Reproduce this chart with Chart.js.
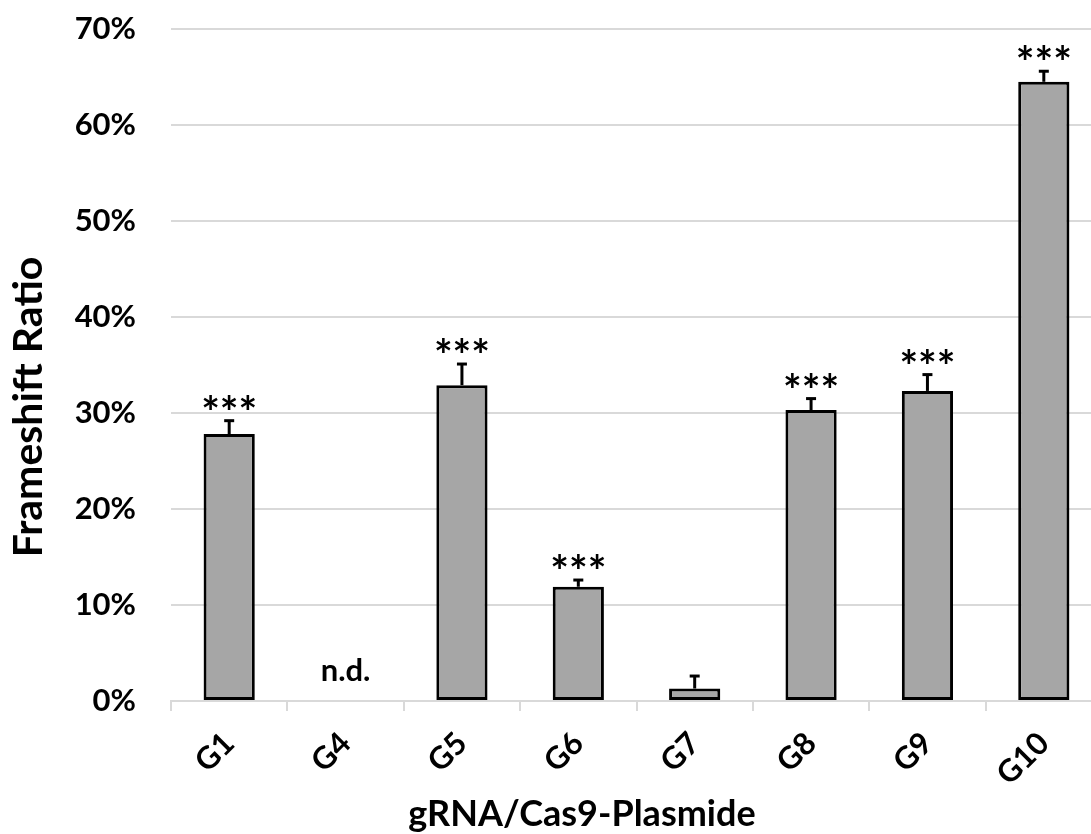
<!DOCTYPE html>
<html lang="en">
<head>
    <meta charset="UTF-8">
    <title>Frameshift Ratio</title>
    <script src="https://cdn.jsdelivr.net/npm/chart.js"></script>
    <style>
        html, body {
            margin: 0;
            padding: 0;
            background: #ffffff;
            overflow: hidden;
        }
        .chart-container {
            width: 1110px;
            height: 834px;
        }
    </style>
</head>
<body>
<div class="chart-container">
    <canvas id="frameshiftChart" width="1110" height="834"></canvas>
</div>

<script>
    // values (percent)
    const categories = ['G1', 'G4', 'G5', 'G6', 'G7', 'G8', 'G9', 'G10'];
    const ratioValues = [27.8, 0, 32.9, 11.9, 1.3, 30.3, 32.3, 64.5];
    const errorValues = [1.4, 0, 2.2, 0.7, 1.3, 1.2, 1.7, 1.1];
    const significance = ['***', 'n.d.', '***', '***', '', '***', '***', '***'];
    const yTicks = [0, 10, 20, 30, 40, 50, 60, 70];
    const xTitle = 'gRNA/Cas9-Plasmide';
    const yTitle = 'Frameshift Ratio';

    const fontFamily = 'Lato, "Open Sans", sans-serif';

    // error bars, significance marks and the axis titles
    const errorBarPlugin = {
        id: 'errorBars',
        afterDatasetsDraw(chart) {
            const ctx = chart.ctx;
            const x = chart.scales.x;
            const y = chart.scales.y;
            ctx.save();
            ctx.strokeStyle = '#000';
            ctx.fillStyle = '#000';
            ratioValues.forEach((v, i) => {
                const cx = x.getPixelForValue(i);
                const base = y.getPixelForValue(v);
                const top = y.getPixelForValue(v + errorValues[i]);
                if (errorValues[i] > 0) {
                    ctx.lineWidth = 3;
                    ctx.beginPath();
                    ctx.moveTo(cx, base);
                    ctx.lineTo(cx, top);
                    ctx.stroke();
                    ctx.beginPath();
                    ctx.moveTo(cx - 5, top);
                    ctx.lineTo(cx + 5, top);
                    ctx.stroke();
                }
                const mark = significance[i];
                if (mark === '***') {
                    ctx.font = 'bold 44px ' + fontFamily;
                    ctx.textAlign = 'center';
                    ctx.textBaseline = 'alphabetic';
                    ctx.fillText(mark, cx, top + 7);
                } else if (mark === 'n.d.') {
                    ctx.font = 'bold 31px ' + fontFamily;
                    ctx.textAlign = 'center';
                    ctx.textBaseline = 'middle';
                    ctx.fillText(mark, cx, y.getPixelForValue(v) - 30);
                }
            });
            ctx.restore();
        },
        afterDraw(chart) {
            const ctx = chart.ctx;
            const area = chart.chartArea;
            ctx.save();
            ctx.fillStyle = '#000';
            ctx.textAlign = 'center';
            ctx.textBaseline = 'middle';
            ctx.font = 'bold 36px ' + fontFamily;
            ctx.fillText(xTitle, area.left + 411, chart.height - 20);
            ctx.translate(29, area.top + 378);
            ctx.rotate(-Math.PI / 2);
            ctx.font = 'bold 41px ' + fontFamily;
            ctx.fillText(yTitle, 0, 0);
            ctx.restore();
        }
    };

    const ctx = document.getElementById('frameshiftChart').getContext('2d');
    new Chart(ctx, {
        type: 'bar',
        data: {
            labels: categories,
            datasets: [{
                label: 'Frameshift Ratio',
                data: ratioValues,
                backgroundColor: '#a6a6a6',
                borderColor: '#000000',
                borderWidth: 3,
                borderSkipped: false,
                categoryPercentage: 1.0,
                barPercentage: 0.44
            }]
        },
        options: {
            responsive: false,
            animation: false,
            layout: {
                padding: { top: 29, right: 8, left: 0, bottom: 0 }
            },
            plugins: {
                legend: { display: false },
                tooltip: { enabled: false }
            },
            scales: {
                x: {
                    offset: true,
                    grid: {
                        offset: true,
                        drawOnChartArea: false,
                        color: '#d9d9d9',
                        lineWidth: 2,
                        tickLength: 10
                    },
                    border: {
                        display: true,
                        color: '#d9d9d9',
                        width: 2
                    },
                    ticks: {
                        color: '#000',
                        minRotation: 45,
                        maxRotation: 45,
                        padding: 14,
                        font: { family: fontFamily, weight: 'bold', size: 31 }
                    },
                    afterFit(scale) {
                        scale.height = 133;
                    }
                },
                y: {
                    min: 0,
                    max: 70,
                    afterBuildTicks(scale) {
                        scale.ticks = yTicks.map(v => ({ value: v }));
                    },
                    grid: {
                        color: '#d9d9d9',
                        lineWidth: 2,
                        drawTicks: false
                    },
                    border: { display: false },
                    ticks: {
                        color: '#000',
                        padding: 35,
                        font: { family: fontFamily, weight: 'bold', size: 31 },
                        callback: v => v + '%'
                    },
                    afterFit(scale) {
                        scale.width = 171;
                        scale.paddingTop = 0;
                        scale.paddingBottom = 0;
                    }
                }
            }
        },
        plugins: [errorBarPlugin]
    });
</script>
</body>
</html>
